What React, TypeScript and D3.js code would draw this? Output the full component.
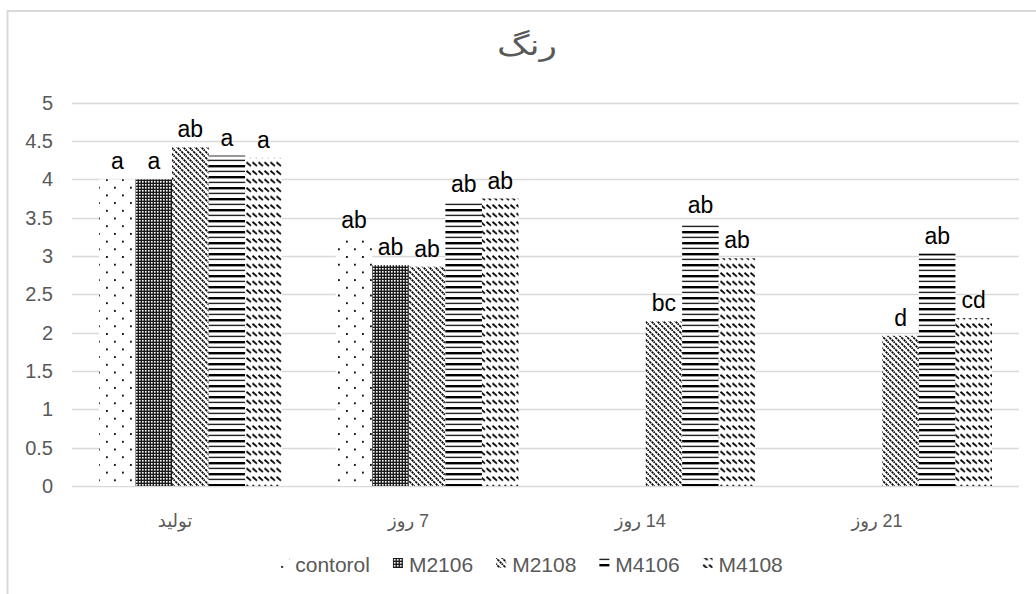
import React, { useEffect, useRef } from 'react';
import * as d3 from 'd3';

const categories = ['تولید', 'روز 7', 'روز 14', 'روز 21'];
const seriesNames = ['contorol', 'M2106', 'M2108', 'M4106', 'M4108'];
const contorol = [4.0, 3.23, 0, 0];
const M2106 = [4.0, 2.88, 0, 0];
const M2108 = [4.42, 2.86, 2.15, 1.96];
const M4106 = [4.31, 3.71, 3.43, 3.03];
const M4108 = [4.28, 3.75, 2.97, 2.19];
const labContorol = ['a', 'ab', '', ''];
const labM2106 = ['a', 'ab', '', ''];
const labM2108 = ['ab', 'ab', 'bc', 'd'];
const labM4106 = ['a', 'ab', 'ab', 'ab'];
const labM4108 = ['a', 'ab', 'ab', 'cd'];
const yTicks = [0, 0.5, 1, 1.5, 2, 2.5, 3, 3.5, 4, 4.5, 5];
const title = 'رنگ';

const seriesValues = [contorol, M2106, M2108, M4106, M4108];
const seriesLabels = [labContorol, labM2106, labM2108, labM4106, labM4108];
const patternIds = ['p-dots', 'p-check', 'p-diag', 'p-hlines', 'p-dash'];

const W = 1036;
const H = 594;
const FONT = '"Liberation Sans", "DejaVu Sans", Arial, sans-serif';
const GREY = '#595959';

export default function App() {
  const ref = useRef<SVGSVGElement | null>(null);

  useEffect(() => {
    const svg = d3.select(ref.current);
    svg.selectAll('*').remove();

    const defs = svg.append('defs');
    // dotted
    const p0 = defs.append('pattern').attr('id', 'p-dots').attr('patternUnits', 'userSpaceOnUse')
      .attr('width', 16).attr('height', 15.4);
    p0.append('rect').attr('width', 16).attr('height', 15.4).attr('fill', '#fff');
    p0.append('rect').attr('x', 2).attr('y', 2).attr('width', 1.8).attr('height', 1.8).attr('fill', '#000');
    p0.append('rect').attr('x', 10).attr('y', 9.7).attr('width', 1.8).attr('height', 1.8).attr('fill', '#000');
    // checker
    const p1 = defs.append('pattern').attr('id', 'p-check').attr('patternUnits', 'userSpaceOnUse')
      .attr('width', 3).attr('height', 3);
    p1.append('rect').attr('width', 3).attr('height', 3).attr('fill', '#1a1a1a');
    p1.append('rect').attr('x', 1).attr('y', 1).attr('width', 1.6).attr('height', 1.6).attr('fill', '#fff');
    // diagonal
    const p2 = defs.append('pattern').attr('id', 'p-diag').attr('patternUnits', 'userSpaceOnUse')
      .attr('width', 6).attr('height', 6);
    p2.append('rect').attr('width', 6).attr('height', 6).attr('fill', '#fff');
    p2.append('path').attr('d', 'M-1,-1 L7,7 M-1,5 L1,7 M5,-1 L7,1')
      .attr('stroke', '#000').attr('stroke-width', 1.6).attr('stroke-dasharray', '2.5,0.8');
    // horizontal thick/thin
    const p3 = defs.append('pattern').attr('id', 'p-hlines').attr('patternUnits', 'userSpaceOnUse')
      .attr('width', 4).attr('height', 11);
    p3.append('rect').attr('width', 4).attr('height', 11).attr('fill', '#fff');
    p3.append('rect').attr('y', 0).attr('width', 4).attr('height', 2.4).attr('fill', '#000');
    p3.append('rect').attr('y', 5.7).attr('width', 4).attr('height', 1.4).attr('fill', '#222');
    // dashed diagonal
    const p4 = defs.append('pattern').attr('id', 'p-dash').attr('patternUnits', 'userSpaceOnUse')
      .attr('width', 6).attr('height', 8.5);
    p4.append('rect').attr('width', 6).attr('height', 8.5).attr('fill', '#fff');
    p4.append('path').attr('d', 'M0.5,0.8 L5,4.6')
      .attr('stroke', '#000').attr('stroke-width', 1.8);

    // chart border (left/top visible)
    svg.append('path').attr('d', `M7.5,${H} L7.5,11 L${W},11`)
      .attr('fill', 'none').attr('stroke', '#d9d9d9').attr('stroke-width', 2);

    const left = 72, right = 1019, y0 = 486, y5 = 102.7;
    const y = d3.scaleLinear().domain([0, 5]).range([y0, y5]);
    const x0 = d3.scaleBand<string>().domain(categories).range([left, right]).padding(0);
    const bw = x0.bandwidth();
    const gap = 54;
    const x1 = d3.scaleBand<string>().domain(seriesNames).range([gap / 2, bw - gap / 2]).padding(0);

    // gridlines
    svg.append('g').selectAll('line').data(yTicks).join('line')
      .attr('x1', left).attr('x2', right)
      .attr('y1', (d) => Math.round(y(d)) + 0.5).attr('y2', (d) => Math.round(y(d)) + 0.5)
      .attr('stroke', '#d9d9d9').attr('stroke-width', 1.3);

    // y tick labels
    svg.append('g').selectAll('text').data(yTicks).join('text')
      .attr('x', 53).attr('y', (d) => y(d) + 7)
      .attr('text-anchor', 'end').attr('font-family', FONT).attr('font-size', 20)
      .attr('fill', GREY).text((d) => String(d));

    // bars
    seriesNames.forEach((s, si) => {
      const vals = seriesValues[si];
      const g = svg.append('g');
      g.selectAll('rect').data(categories.map((c, ci) => ({ c, v: vals[ci] })).filter((d) => d.v > 0))
        .join('rect')
        .attr('x', (d) => (x0(d.c) as number) + (x1(s) as number))
        .attr('y', (d) => y(d.v))
        .attr('width', x1.bandwidth())
        .attr('height', (d) => y0 - y(d.v))
        .attr('fill', `url(#${patternIds[si]})`);
    });

    // data labels
    seriesNames.forEach((s, si) => {
      const vals = seriesValues[si];
      const labs = seriesLabels[si];
      svg.append('g').selectAll('text')
        .data(categories.map((c, ci) => ({ c, v: vals[ci], t: labs[ci] })).filter((d) => d.t))
        .join('text')
        .attr('x', (d) => (x0(d.c) as number) + (x1(s) as number) + x1.bandwidth() / 2)
        .attr('y', (d) => y(d.v) - 10)
        .attr('text-anchor', 'middle').attr('font-family', FONT).attr('font-size', 23)
        .attr('fill', '#000').text((d) => d.t);
    });

    // category labels (Persian word then number, left-to-right)
    svg.append('g').selectAll('text').data(categories).join('text')
      .attr('x', (d) => (x0(d) as number) + bw / 2 + 2)
      .attr('y', 527)
      .attr('text-anchor', 'end').attr('font-family', FONT).attr('font-size', 18)
      .attr('fill', GREY).text((d) => d.replace(' ', '\u200E '));

    // title
    svg.append('text').attr('x', 527).attr('y', 55).attr('text-anchor', 'middle')
      .attr('font-family', FONT).attr('font-size', 28).attr('fill', GREY)
      .attr('textLength', 60).attr('lengthAdjust', 'spacingAndGlyphs').text(title);

    // legend
    const lg = svg.append('g');
    const items = seriesNames.map((s, si) => {
      const it = lg.append('g');
      it.append('rect').attr('x', 0).attr('y', -6).attr('width', 10).attr('height', 10)
        .attr('fill', `url(#${patternIds[si]})`);
      const t = it.append('text').attr('x', 16).attr('y', 8).attr('font-family', FONT)
        .attr('font-size', 21).attr('fill', GREY).text(s);
      const tw = (t.node() as SVGTextElement).getComputedTextLength();
      return { it, w: 16 + tw };
    });
    const itemGap = 23;
    const total = items.reduce((a, b) => a + b.w, 0) + itemGap * (items.length - 1);
    let cx = 531 - total / 2;
    items.forEach(({ it, w }) => {
      it.attr('transform', `translate(${cx},564)`);
      cx += w + itemGap;
    });
  }, []);

  return (
    <svg ref={ref} width={W} height={H}
      style={{ position: 'absolute', left: 0, top: 0, background: '#fff', display: 'block' }} />
  );
}
